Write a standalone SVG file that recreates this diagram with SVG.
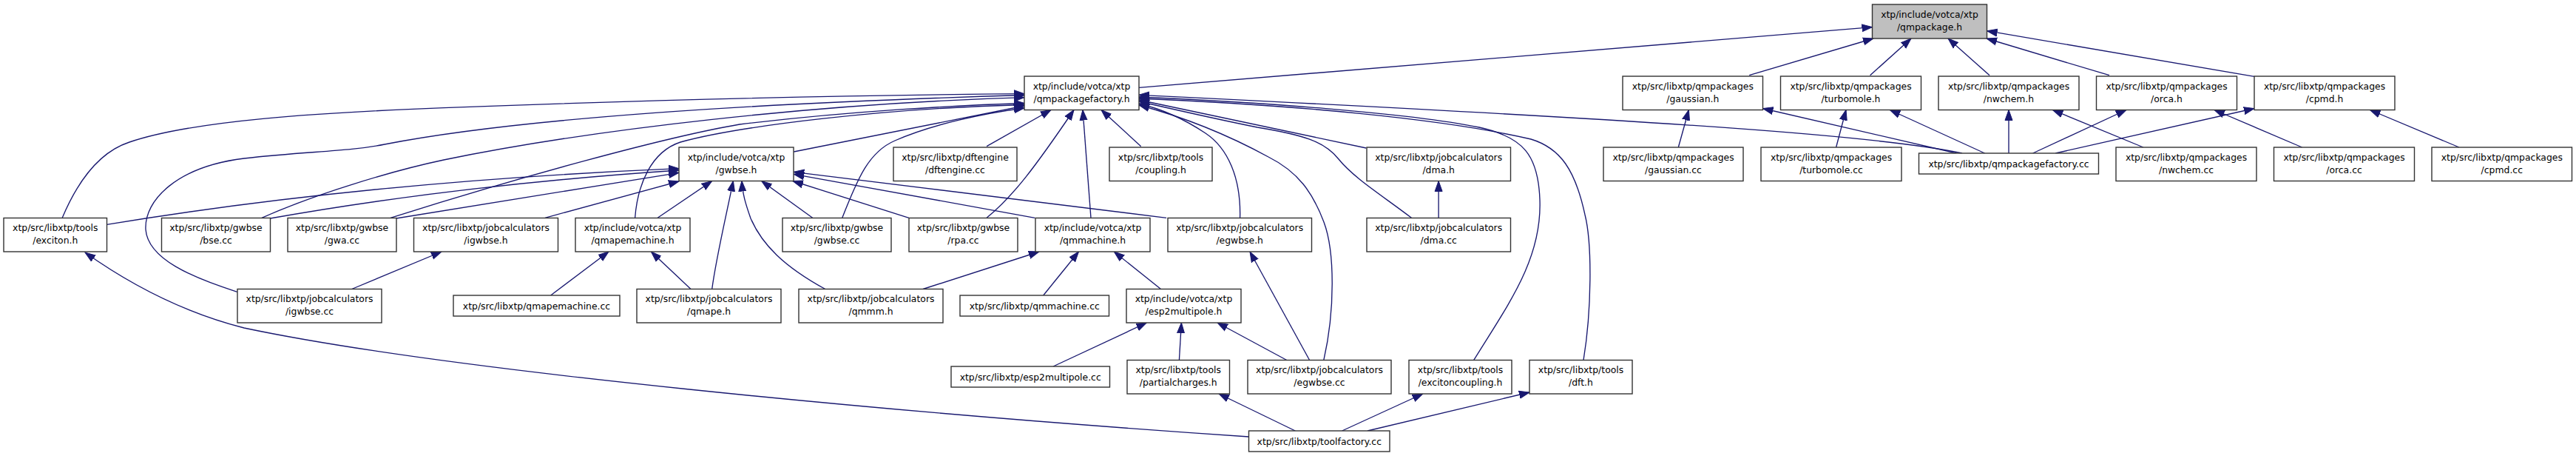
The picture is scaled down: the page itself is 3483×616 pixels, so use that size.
<svg xmlns="http://www.w3.org/2000/svg" width="3483" height="616" viewBox="0 0 3483 616">
<style>
rect.n{fill:#ffffff;stroke:#333333;stroke-width:1.4}
rect.h{fill:#bfbfbf;stroke:#333333;stroke-width:1.4}
text{font-family:"DejaVu Sans",sans-serif;font-size:12.4px;fill:#000;text-anchor:middle}
#edges path{fill:none;stroke:#191970;stroke-width:1.35;marker-end:url(#ah)}
</style>
<defs>
<marker id="ah" markerUnits="userSpaceOnUse" markerWidth="15" markerHeight="12" refX="14" refY="6" orient="auto"><path d="M0,1 L14,6 L0,11 Z" fill="#191970" stroke="#191970" stroke-width="1"/></marker>
</defs>
<rect width="3483" height="616" fill="#ffffff"/>
<g id="edges">
<path d="M1540,118.3 L2531.5,36.7"/>
<path d="M2365.2,101.7 L2533,52"/>
<path d="M2528.6,101.7 L2584,52"/>
<path d="M2690,101.7 L2634,52"/>
<path d="M2852,101.7 L2686,52"/>
<path d="M3048,103.3 L2686.5,41.7"/>
<path d="M84.2,294.3 C105,245 135,205 175,192 C260,163 430,152 600,145.7 C800,138 1100,129 1385,126.7"/>
<path d="M320.7,394.3 C260,375 200,350 197,310 C195,270 240,225 330,214 C420,204 470,205 520,195 C700,160 1000,140 1385,128.5"/>
<path d="M354,294.3 C420,265 520,233 600,216 C800,175 1100,140 1385,131.7"/>
<path d="M528,294.3 C700,240 900,185 1000,168 C1150,150 1300,142 1385,139.5"/>
<path d="M858.6,294.3 C862,250 880,205 920,192 C1000,170 1200,146 1385,141.5"/>
<path d="M1073.3,205 L1385,143"/>
<path d="M1138.8,294.3 C1160,240 1175,205 1210,190 C1260,168 1330,153 1385,146"/>
<path d="M1334.1,197.7 L1421,148.5"/>
<path d="M1334.1,294.3 C1370,265 1400,225 1452,148.5"/>
<path d="M1475,294.3 L1464,148.5"/>
<path d="M1542.7,197.7 L1489,148.5"/>
<path d="M2653,207 C2550,185 2300,165 1540,128.3"/>
<path d="M1992.6,486.7 C2040,410 2085,350 2082,270 C2080,210 2060,185 2000,172 C1900,152 1700,138 1540,131"/>
<path d="M2141,486.7 C2152,420 2153,330 2143,290 C2130,230 2110,200 2070,188 C1950,160 1750,142 1540,133"/>
<path d="M1847.2,200 L1540,135"/>
<path d="M1908.4,294.3 C1870,265 1830,240 1810,215 C1790,190 1760,182 1700,172 C1640,160 1580,146 1540,137"/>
<path d="M1676.6,294.3 C1678,240 1660,200 1630,180 C1600,160 1570,147 1540,140"/>
<path d="M1789.8,486.7 C1805,420 1805,340 1790,300 C1775,260 1755,232 1715,212 C1660,182 1600,158 1540,142"/>
<path d="M144.3,303.3 Q500,245 918,227.7"/>
<path d="M365.5,295 Q620,250 918,230"/>
<path d="M535.8,295 L918,233.3"/>
<path d="M736.9,294.3 L918,245"/>
<path d="M889.2,294.3 L962.7,244.5"/>
<path d="M962.7,390.5 C968,350 980,300 991.4,244.5"/>
<path d="M1115.8,390.5 C1060,360 1030,330 1015,295 C1008,275 1004,262 1003,244.5"/>
<path d="M1098.6,294.3 L1029.7,244.5"/>
<path d="M1228.9,294.3 L1071.8,244.5"/>
<path d="M1577.1,294.3 L1073.3,232.3"/>
<path d="M1399.2,294.3 L1073.3,235.3"/>
<path d="M475.7,390.5 L597,340"/>
<path d="M744.6,399 L823,340"/>
<path d="M934,390.5 L880.4,340"/>
<path d="M1248,390.5 L1405,340"/>
<path d="M1410.7,399 L1458.5,340"/>
<path d="M1569.5,390.5 L1506.3,340"/>
<path d="M1424,495 L1550.4,436"/>
<path d="M1594.4,486.5 L1597.4,436"/>
<path d="M1739.8,486.5 L1646,436"/>
<path d="M1770.6,486.5 L1690,340"/>
<path d="M1751.3,582 L1648,532"/>
<path d="M1814.6,582 L1923.7,532"/>
<path d="M1849,582 L2068,530"/>
<path d="M1688.5,590 C1200,557 600,500 330,443 C240,420 170,380 115,341"/>
<path d="M1945.1,294.5 L1945.1,244.5"/>
<path d="M2269.3,199 L2283.4,148.5"/>
<path d="M2482.6,199 L2496,148.5"/>
<path d="M2645.3,207 L2383.5,146.5"/>
<path d="M2683.6,207 L2555.4,148.5"/>
<path d="M2716,207 L2716,148.5"/>
<path d="M2897.9,199 L2775.4,148.5"/>
<path d="M2748.6,207 L2874.9,148.5"/>
<path d="M2779.2,207 L3048,146.5"/>
<path d="M3112.6,199 L2994,148.5"/>
<path d="M3325,199 L3204.5,148.5"/>
</g>
<g id="n_qmpackage_h"><rect class="h" x="2531.5" y="6" width="155" height="46"/><text x="2609" y="23.5">xtp/include/votca/xtp</text><text x="2609" y="40.5">/qmpackage.h</text></g>
<g id="n_qmpackagefactory_h"><rect class="n" x="1385" y="103" width="155" height="45.5"/><text x="1462.5" y="120.5">xtp/include/votca/xtp</text><text x="1462.5" y="137.5">/qmpackagefactory.h</text></g>
<g id="n_gaussian_h"><rect class="n" x="2194" y="103" width="189.5" height="45.5"/><text x="2288.8" y="120.5">xtp/src/libxtp/qmpackages</text><text x="2288.8" y="137.5">/gaussian.h</text></g>
<g id="n_turbomole_h"><rect class="n" x="2407.5" y="103" width="190" height="45.5"/><text x="2502.5" y="120.5">xtp/src/libxtp/qmpackages</text><text x="2502.5" y="137.5">/turbomole.h</text></g>
<g id="n_nwchem_h"><rect class="n" x="2621" y="103" width="190" height="45.5"/><text x="2716" y="120.5">xtp/src/libxtp/qmpackages</text><text x="2716" y="137.5">/nwchem.h</text></g>
<g id="n_orca_h"><rect class="n" x="2834.5" y="103" width="190" height="45.5"/><text x="2929.5" y="120.5">xtp/src/libxtp/qmpackages</text><text x="2929.5" y="137.5">/orca.h</text></g>
<g id="n_cpmd_h"><rect class="n" x="3048" y="103" width="190" height="45.5"/><text x="3143" y="120.5">xtp/src/libxtp/qmpackages</text><text x="3143" y="137.5">/cpmd.h</text></g>
<g id="n_gwbse_h"><rect class="n" x="918" y="199" width="155" height="45.5"/><text x="995.5" y="216.5">xtp/include/votca/xtp</text><text x="995.5" y="233.5">/gwbse.h</text></g>
<g id="n_dftengine_cc"><rect class="n" x="1208" y="199" width="167" height="45.5"/><text x="1291.5" y="216.5">xtp/src/libxtp/dftengine</text><text x="1291.5" y="233.5">/dftengine.cc</text></g>
<g id="n_coupling_h"><rect class="n" x="1500" y="199" width="139" height="45.5"/><text x="1569.5" y="216.5">xtp/src/libxtp/tools</text><text x="1569.5" y="233.5">/coupling.h</text></g>
<g id="n_dma_h"><rect class="n" x="1848" y="199" width="194.5" height="45.5"/><text x="1945.2" y="216.5">xtp/src/libxtp/jobcalculators</text><text x="1945.2" y="233.5">/dma.h</text></g>
<g id="n_gaussian_cc"><rect class="n" x="2168" y="199" width="189" height="45.5"/><text x="2262.5" y="216.5">xtp/src/libxtp/qmpackages</text><text x="2262.5" y="233.5">/gaussian.cc</text></g>
<g id="n_turbomole_cc"><rect class="n" x="2381" y="199" width="190" height="45.5"/><text x="2476" y="216.5">xtp/src/libxtp/qmpackages</text><text x="2476" y="233.5">/turbomole.cc</text></g>
<g id="n_qmpackagefactory_cc"><rect class="n" x="2594.5" y="207" width="243" height="28"/><text x="2716" y="225.5">xtp/src/libxtp/qmpackagefactory.cc</text></g>
<g id="n_nwchem_cc"><rect class="n" x="2861" y="199" width="190" height="45.5"/><text x="2956" y="216.5">xtp/src/libxtp/qmpackages</text><text x="2956" y="233.5">/nwchem.cc</text></g>
<g id="n_orca_cc"><rect class="n" x="3074.5" y="199" width="190" height="45.5"/><text x="3169.5" y="216.5">xtp/src/libxtp/qmpackages</text><text x="3169.5" y="233.5">/orca.cc</text></g>
<g id="n_cpmd_cc"><rect class="n" x="3288" y="199" width="189.5" height="45.5"/><text x="3382.8" y="216.5">xtp/src/libxtp/qmpackages</text><text x="3382.8" y="233.5">/cpmd.cc</text></g>
<g id="n_exciton_h"><rect class="n" x="5" y="294.5" width="139.5" height="45.5"/><text x="74.8" y="312">xtp/src/libxtp/tools</text><text x="74.8" y="329">/exciton.h</text></g>
<g id="n_bse_cc"><rect class="n" x="218.5" y="294.5" width="147" height="45.5"/><text x="292" y="312">xtp/src/libxtp/gwbse</text><text x="292" y="329">/bse.cc</text></g>
<g id="n_gwa_cc"><rect class="n" x="389" y="294.5" width="147" height="45.5"/><text x="462.5" y="312">xtp/src/libxtp/gwbse</text><text x="462.5" y="329">/gwa.cc</text></g>
<g id="n_igwbse_h"><rect class="n" x="559.5" y="294.5" width="195" height="45.5"/><text x="657" y="312">xtp/src/libxtp/jobcalculators</text><text x="657" y="329">/igwbse.h</text></g>
<g id="n_qmapemachine_h"><rect class="n" x="778" y="294.5" width="155" height="45.5"/><text x="855.5" y="312">xtp/include/votca/xtp</text><text x="855.5" y="329">/qmapemachine.h</text></g>
<g id="n_gwbse_cc"><rect class="n" x="1058" y="294.5" width="147" height="45.5"/><text x="1131.5" y="312">xtp/src/libxtp/gwbse</text><text x="1131.5" y="329">/gwbse.cc</text></g>
<g id="n_rpa_cc"><rect class="n" x="1229" y="294.5" width="147" height="45.5"/><text x="1302.5" y="312">xtp/src/libxtp/gwbse</text><text x="1302.5" y="329">/rpa.cc</text></g>
<g id="n_qmmachine_h"><rect class="n" x="1400" y="294.5" width="155" height="45.5"/><text x="1477.5" y="312">xtp/include/votca/xtp</text><text x="1477.5" y="329">/qmmachine.h</text></g>
<g id="n_egwbse_h"><rect class="n" x="1579" y="294.5" width="194.5" height="45.5"/><text x="1676.2" y="312">xtp/src/libxtp/jobcalculators</text><text x="1676.2" y="329">/egwbse.h</text></g>
<g id="n_dma_cc"><rect class="n" x="1848" y="294.5" width="194.5" height="45.5"/><text x="1945.2" y="312">xtp/src/libxtp/jobcalculators</text><text x="1945.2" y="329">/dma.cc</text></g>
<g id="n_igwbse_cc"><rect class="n" x="321" y="390.5" width="195" height="45.5"/><text x="418.5" y="408">xtp/src/libxtp/jobcalculators</text><text x="418.5" y="425">/igwbse.cc</text></g>
<g id="n_qmapemachine_cc"><rect class="n" x="613" y="399" width="225" height="28"/><text x="725.5" y="417.5">xtp/src/libxtp/qmapemachine.cc</text></g>
<g id="n_qmape_h"><rect class="n" x="861" y="390.5" width="195" height="45.5"/><text x="958.5" y="408">xtp/src/libxtp/jobcalculators</text><text x="958.5" y="425">/qmape.h</text></g>
<g id="n_qmmm_h"><rect class="n" x="1080" y="390.5" width="195" height="45.5"/><text x="1177.5" y="408">xtp/src/libxtp/jobcalculators</text><text x="1177.5" y="425">/qmmm.h</text></g>
<g id="n_qmmachine_cc"><rect class="n" x="1298" y="399" width="201.5" height="28"/><text x="1398.8" y="417.5">xtp/src/libxtp/qmmachine.cc</text></g>
<g id="n_esp2multipole_h"><rect class="n" x="1523" y="390.5" width="155" height="45.5"/><text x="1600.5" y="408">xtp/include/votca/xtp</text><text x="1600.5" y="425">/esp2multipole.h</text></g>
<g id="n_esp2multipole_cc"><rect class="n" x="1286" y="495" width="214.5" height="28"/><text x="1393.2" y="513.5">xtp/src/libxtp/esp2multipole.cc</text></g>
<g id="n_partialcharges_h"><rect class="n" x="1524" y="486.5" width="138.5" height="45.5"/><text x="1593.2" y="504">xtp/src/libxtp/tools</text><text x="1593.2" y="521">/partialcharges.h</text></g>
<g id="n_egwbse_cc"><rect class="n" x="1687" y="486.5" width="194" height="45.5"/><text x="1784" y="504">xtp/src/libxtp/jobcalculators</text><text x="1784" y="521">/egwbse.cc</text></g>
<g id="n_excitoncoupling_h"><rect class="n" x="1905" y="486.5" width="139" height="45.5"/><text x="1974.5" y="504">xtp/src/libxtp/tools</text><text x="1974.5" y="521">/excitoncoupling.h</text></g>
<g id="n_dft_h"><rect class="n" x="2068" y="486.5" width="139" height="45.5"/><text x="2137.5" y="504">xtp/src/libxtp/tools</text><text x="2137.5" y="521">/dft.h</text></g>
<g id="n_toolfactory_cc"><rect class="n" x="1688.5" y="582" width="190.5" height="28"/><text x="1783.8" y="600.5">xtp/src/libxtp/toolfactory.cc</text></g>
</svg>
